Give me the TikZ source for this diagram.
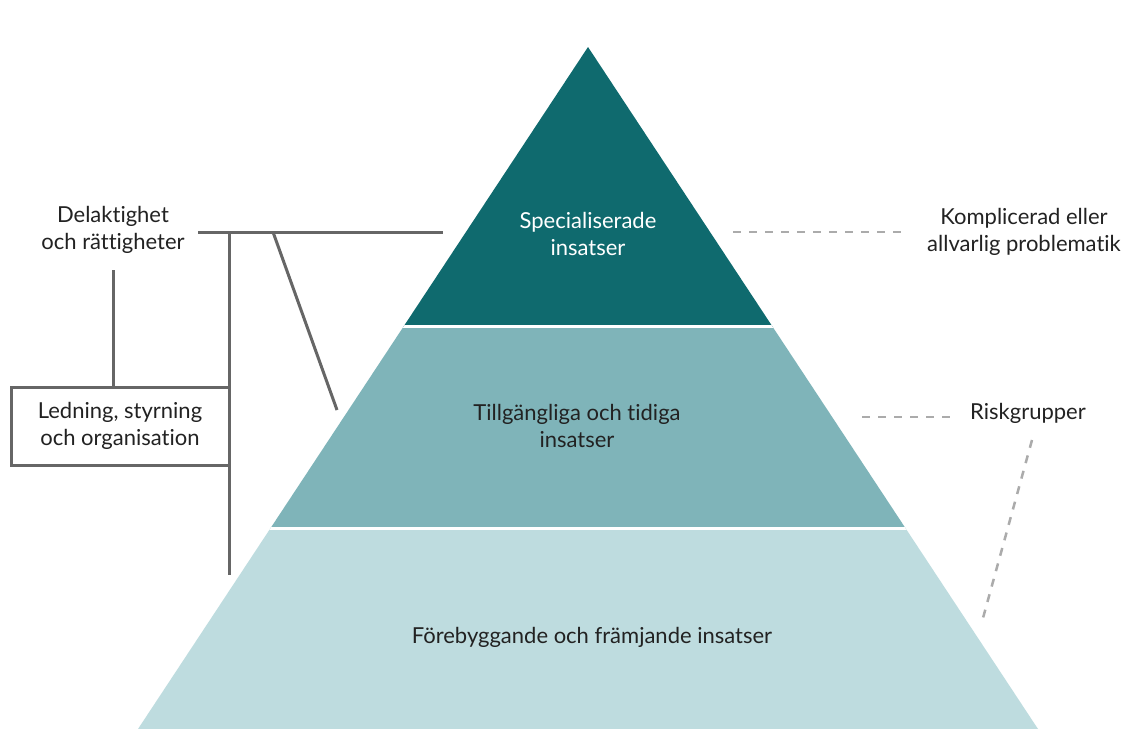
\documentclass[tikz,border=0pt]{standalone}
\usepackage{fontspec}
\setmainfont{Lato}[Ligatures=NoCommon]
\definecolor{tierA}{HTML}{0F6A6E}
\definecolor{tierB}{HTML}{7FB4B9}
\definecolor{tierC}{HTML}{BEDCDF}
\definecolor{solidgray}{HTML}{666666}
\definecolor{dashgray}{HTML}{ABABAB}
\definecolor{ink}{HTML}{222222}
\tikzset{
  lbl/.style={font=\fontsize{22}{27}\selectfont, text=ink, align=center, inner sep=0pt},
  tierlbl/.style={lbl},
  solidline/.style={draw=solidgray, line width=3pt},
  dashline/.style={draw=dashgray, line width=2.5pt, dash pattern=on 8pt off 8pt},
}
\begin{document}
\begin{tikzpicture}[x=1pt, y=-1pt]
\useasboundingbox (0,0) rectangle (1137,729);
\fill[white] (0,0) rectangle (1137,729);

% pyramid: three tiers clipped by the triangle, separated by white gaps
\begin{scope}
  \clip (588,47) -- (138,729) -- (1038,729) -- cycle;
  \fill[tierA] (0,0) rectangle (1137,326.5);
  \fill[tierB] (0,326.5) rectangle (1137,528.5);
  \fill[tierC] (0,528.5) rectangle (1137,729);
  \draw[white, line width=3pt] (0,326.5) -- (1137,326.5);
  \draw[white, line width=3pt] (0,528.5) -- (1137,528.5);
\end{scope}

% tier labels
\node[tierlbl, text=white] (spec) at (588,234) {Specialiserade\\insatser};
\node[tierlbl] (tidig) at (577,426) {Tillgängliga och tidiga\\insatser};
\node[tierlbl] (foreb) at (592,637) {Förebyggande och främjande insatser};

% left side: participation and governance
\node[lbl] (delakt) at (113,230) {Delaktighet\\och rättigheter};
\node[lbl, draw=solidgray, line width=3pt, minimum width=218pt, minimum height=78pt] (ledn) at (120,426) {Ledning, styrning\\och organisation};

\coordinate (hlL) at (198,232);
\coordinate (hlR) at (443,232);
\coordinate (vtop) at (229,232);
\coordinate (vbot) at (229,575);
\coordinate (dtop) at (273,232);
\coordinate (dbot) at (337,410);
\coordinate (dlstart) at (113,270);

\draw[solidline] (hlL) -- (hlR);
\draw[solidline] (vtop) -- (vbot);
\draw[solidline] (dtop) -- (dbot);
\draw[solidline] (dlstart) -- (dlstart |- ledn.north);

% right side: target groups
\node[lbl] (kompl) at (1024,232) {Komplicerad eller\\allvarlig problematik};
\node[lbl] (risk) at (1028,413) {Riskgrupper};

\coordinate (k1) at (733,232);
\coordinate (k2) at (902,232);
\coordinate (r1) at (862,417);
\coordinate (r2) at (950,417);
\coordinate (b1) at (1032,440);
\coordinate (b2) at (983,618);

\draw[dashline] (k1) -- (k2);
\draw[dashline] (r1) -- (r2);
\draw[dashline] (b1) -- (b2);
\end{tikzpicture}
\end{document}
